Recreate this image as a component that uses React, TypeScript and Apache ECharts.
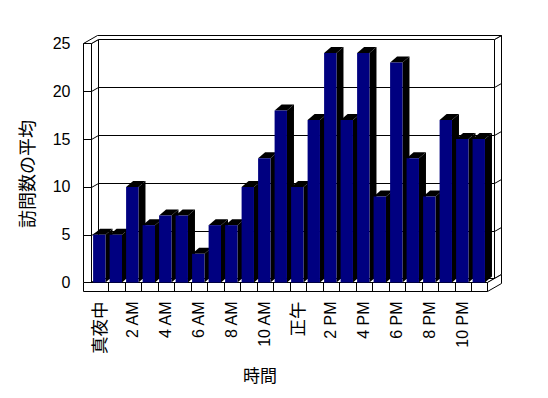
import React, { useEffect, useRef } from "react";
import * as echarts from "echarts";

const categories = [
  "真夜中", "1 AM", "2 AM", "3 AM", "4 AM", "5 AM", "6 AM", "7 AM", "8 AM", "9 AM", "10 AM", "11 AM",
  "正午", "1 PM", "2 PM", "3 PM", "4 PM", "5 PM", "6 PM", "7 PM", "8 PM", "9 PM", "10 PM", "11 PM",
];
const visits = [5, 5, 10, 6, 7, 7, 3, 6, 6, 10, 13, 18, 10, 17, 24, 17, 24, 9, 23, 13, 9, 17, 15, 15];
const yTicks = [0, 5, 10, 15, 20, 25];
const xAxisTitle = "時間";
const yAxisTitle = "訪問数の平均";

const FONT = '"Liberation Sans", "Noto Sans CJK JP", sans-serif';
const NAVY = "#000080";
const AX = 7;
const AY = 4;
const WALL_T = 8;
const FLOOR_T = 9;
const BAR_DX = 7;
const BAR_DY = 6;

export default function App() {
  const ref = useRef<HTMLDivElement>(null);
  useEffect(() => {
    if (!ref.current) return;
    const chart = echarts.init(ref.current, null, { renderer: "svg" });
    const yMax = yTicks[yTicks.length - 1];
    const lineStyle = { stroke: "#000", lineWidth: 1, fill: null };
    const faceStyle = { fill: "#fff", stroke: "#000", lineWidth: 1 };

    const renderFrame = (params: any, api: any) => {
      const band = api.size([1, 0])[0];
      const L = api.coord([0, 0])[0] - band / 2;
      const R = api.coord([categories.length - 1, 0])[0] + band / 2;
      const Y0 = api.coord([0, 0])[1];
      const YT = api.coord([0, yMax])[1];
      const children: any[] = [];
      children.push({ type: "polygon", shape: { points: [[L + AX, YT - AY], [R + AX, YT - AY], [R + AX, Y0 - AY], [L + AX, Y0 - AY]] }, style: faceStyle });
      children.push({ type: "polygon", shape: { points: [[L, YT], [L + AX, YT - AY], [L + AX, Y0 - AY], [L, Y0]] }, style: faceStyle });
      children.push({ type: "polygon", shape: { points: [[R + AX, YT - AY], [R + 2 * AX, YT - 2 * AY], [R + 2 * AX, Y0 - 2 * AY], [R + AX, Y0 - AY]] }, style: faceStyle });
      children.push({ type: "polygon", shape: { points: [[L - WALL_T, YT], [L, YT], [L + AX, YT - AY], [R + AX, YT - AY], [R + 2 * AX, YT - 2 * AY], [L - WALL_T + 2 * AX, YT - 2 * AY]] }, style: faceStyle });
      children.push({ type: "rect", shape: { x: L - WALL_T, y: YT, width: WALL_T, height: Y0 - YT }, style: faceStyle });
      yTicks.forEach((v) => {
        if (v === 0 || v === yMax) return;
        const y = Math.round(api.coord([0, v])[1]) + 0.5;
        children.push({ type: "line", shape: { x1: L + AX, y1: y - AY, x2: R + AX, y2: y - AY }, style: lineStyle });
        children.push({ type: "line", shape: { x1: L, y1: y, x2: L + AX, y2: y - AY }, style: lineStyle });
        children.push({ type: "line", shape: { x1: L - WALL_T, y1: y, x2: L, y2: y }, style: lineStyle });
        children.push({ type: "line", shape: { x1: R + AX, y1: y - AY, x2: R + 2 * AX, y2: y - 2 * AY }, style: lineStyle });
      });
      children.push({ type: "polygon", shape: { points: [[L, Y0], [R, Y0], [R + AX, Y0 - AY], [L + AX, Y0 - AY]] }, style: faceStyle });
      children.push({ type: "polygon", shape: { points: [[R, Y0], [R, Y0 + FLOOR_T], [R + 2 * AX, Y0 + FLOOR_T - 2 * AY], [R + 2 * AX, Y0 - 2 * AY]] }, style: faceStyle });
      children.push({ type: "rect", shape: { x: L - WALL_T, y: Y0, width: R - L + WALL_T, height: FLOOR_T }, style: faceStyle });
      for (let k = 1; k < categories.length; k++) {
        const x = Math.round(L + k * band) + 0.5;
        children.push({ type: "line", shape: { x1: x, y1: Y0, x2: x, y2: Y0 + FLOOR_T }, style: lineStyle });
      }
      return { type: "group", children };
    };

    const renderBar = (params: any, api: any) => {
      const i = api.value(0);
      const v = api.value(1);
      const band = api.size([1, 0])[0];
      const top = api.coord([i, v]);
      const base = api.coord([i, 0]);
      const x0 = top[0] - band / 2 + band * 0.097;
      const x1 = x0 + band * 0.75;
      const yt = top[1];
      const yb = base[1];
      return {
        type: "group",
        children: [
          { type: "polygon", shape: { points: [[x1, yt], [x1 + BAR_DX, yt - BAR_DY], [x1 + BAR_DX, yb - BAR_DY], [x1, yb]] }, style: { fill: "#000" } },
          { type: "polygon", shape: { points: [[x0, yt], [x1, yt], [x1 + BAR_DX, yt - BAR_DY], [x0 + BAR_DX, yt - BAR_DY]] }, style: { fill: "#000" } },
          { type: "rect", shape: { x: x0, y: yt, width: x1 - x0, height: yb - yt }, style: { fill: NAVY } },
        ],
      };
    };

    chart.setOption({
      animation: false,
      backgroundColor: "#fff",
      grid: { left: 91.5, right: 60.5, top: 43.5, bottom: 115.5 },
      xAxis: {
        type: "category",
        data: categories,
        axisLine: { show: false },
        axisTick: { show: false },
        splitLine: { show: false },
        axisLabel: {
          rotate: 90,
          interval: 1,
          margin: 19,
          color: "#000",
          fontSize: 16,
          fontFamily: FONT,
          formatter: (v: string) => (/[^\x00-\x7F]/.test(v) ? `{cjk|${v}}` : v),
          rich: { cjk: { fontSize: 17.5, fontFamily: FONT, color: "#000" } },
        },
      },
      yAxis: {
        type: "value",
        min: 0,
        max: yMax,
        interval: 5,
        axisLine: { show: false },
        axisTick: { show: false },
        splitLine: { show: false },
        axisLabel: { margin: 21, color: "#000", fontSize: 16, fontFamily: FONT },
      },
      graphic: [
        { type: "text", x: 260, y: 376, style: { text: xAxisTitle, fill: "#000", fontSize: 17, fontFamily: FONT, textAlign: "center", textVerticalAlign: "middle" } },
        { type: "text", x: 27.5, y: 174, rotation: Math.PI / 2, style: { text: yAxisTitle, fill: "#000", fontSize: 18, fontFamily: FONT, textAlign: "center", textVerticalAlign: "middle" } },
      ],
      series: [
        { type: "custom", renderItem: renderFrame, data: [[0, 0]], clip: false, silent: true, z: 1 },
        { type: "custom", renderItem: renderBar, data: visits.map((v, i) => [i, v]), clip: false, z: 2 },
      ],
    });
    return () => chart.dispose();
  }, []);
  return <div ref={ref} style={{ position: "fixed", left: 0, top: 0, width: 548, height: 398 }} />;
}
